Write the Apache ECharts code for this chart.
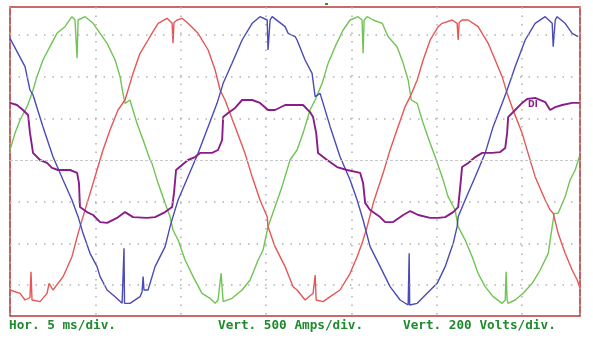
<!DOCTYPE html>
<html>
<head>
<meta charset="utf-8">
<script src="https://cdn.jsdelivr.net/npm/echarts@6/dist/echarts.min.js"></script>
<style>
  html, body { margin: 0; padding: 0; background: #fff; }
  #chart { width: 593px; height: 338px; }
</style>
</head>
<body>
<div id="chart"></div>
<script>
// time in ms, currents in A, voltage in V
var ampsBlue = [
  [0,1460],[0.88,1120],[1.17,840],[1.35,780],[1.93,400],[2.52,40],[3.11,-240],[3.63,-480],
  [3.99,-680],[4.28,-880],[4.69,-1120],[5.10,-1280],[5.28,-1400],[5.69,-1560],[6.16,-1640],
  [6.57,-1720],[6.65,-1720],[6.68,-1060],[6.71,-1720],[7.03,-1720],[7.62,-1640],[7.74,-1580],
  [7.80,-1400],[7.85,-1560],[8.09,-1560],[8.50,-1280],[9.09,-1040],[9.38,-800],[9.55,-680],
  [9.85,-480],[10.43,-200],[11.02,80],[11.61,400],[12.13,680],[12.49,920],[13.01,1160],
  [13.60,1440],[14.19,1640],[14.65,1720],[15.07,1680],[15.12,1320],[15.24,1680],[15.36,1720],
  [16.12,1600],[16.30,1520],[16.71,1480],[16.82,1440],[17.29,1200],[17.70,1040],[17.88,760],
  [18.17,800],[18.76,400],[19.34,40],[19.93,-240],[20.34,-480],[20.69,-720],[21.10,-1040],
  [21.69,-1280],[22.27,-1520],[22.86,-1680],[23.33,-1740],[23.39,-1120],[23.42,-1740],
  [23.86,-1720],[24.44,-1600],[25.03,-1480],[25.50,-1280],[25.97,-1000],[26.20,-800],
  [26.26,-680],[26.67,-480],[27.26,-200],[27.84,80],[28.31,400],[28.84,680],[29.13,840],
  [29.60,1120],[30.19,1440],[30.77,1640],[31.36,1720],[31.77,1640],[31.83,1360],[31.95,1680],
  [32.06,1720],[32.53,1640],[32.94,1520],[33.29,1480]
];

var ampsRed = [
  [0,-1560],[0.59,-1600],[0.88,-1680],[1.17,-1650],[1.23,-1340],[1.29,-1680],[1.35,-1680],
  [1.76,-1700],[2.17,-1600],[2.29,-1480],[2.52,-1560],[3.11,-1400],[3.63,-1160],[3.99,-880],
  [4.28,-680],[4.69,-400],[5.10,-120],[5.45,120],[5.86,360],[6.33,600],[6.74,720],[7.21,1040],
  [7.62,1280],[8.09,1440],[8.32,1520],[8.68,1640],[9.20,1700],[9.50,1640],[9.55,1400],
  [9.61,1650],[9.79,1680],[10.08,1700],[10.43,1640],[11.02,1520],[11.61,1320],[12.02,1080],
  [12.31,840],[12.60,720],[13.19,400],[13.77,80],[14.19,-200],[14.65,-480],[15.07,-680],
  [15.12,-800],[15.53,-1040],[16.12,-1280],[16.59,-1520],[16.82,-1560],[17.29,-1680],
  [17.76,-1600],[17.88,-1380],[17.94,-1680],[18.05,-1680],[18.35,-1700],[18.76,-1640],
  [19.34,-1560],[19.93,-1360],[20.34,-1160],[20.63,-1000],[20.93,-800],[21.28,-520],
  [21.86,-160],[22.27,120],[22.74,400],[23.15,640],[23.45,760],[23.86,960],[24.21,1200],
  [24.62,1440],[25.09,1600],[25.32,1640],[25.91,1680],[26.20,1640],[26.26,1440],[26.32,1650],
  [26.49,1680],[26.85,1680],[27.43,1600],[28.02,1400],[28.43,1200],[28.84,1000],[29.13,800],
  [29.48,600],[30.01,320],[30.36,80],[30.77,-200],[31.36,-480],[31.65,-600],[31.83,-640],
  [32.12,-880],[32.53,-1120],[32.94,-1320],[33.24,-1440],[33.36,-1520]
];

var ampsGreen = [
  [0,120],[0.29,320],[0.59,480],[1.00,640],[1.29,800],[1.58,1000],[1.93,1200],[2.34,1360],
  [2.75,1520],[3.22,1600],[3.63,1720],[3.81,1680],[3.93,1220],[3.99,1680],[4.10,1700],
  [4.40,1720],[4.87,1640],[5.28,1520],[5.69,1400],[6.16,1200],[6.45,1000],[6.62,800],
  [6.74,680],[7.03,720],[7.44,440],[7.80,240],[8.21,0],[8.32,-40],[8.68,-280],[9.09,-520],
  [9.38,-680],[9.55,-840],[9.85,-960],[10.26,-1200],[10.73,-1400],[11.25,-1600],[11.72,-1660],
  [12.02,-1720],[12.19,-1680],[12.37,-1360],[12.49,-1700],[13.01,-1660],[13.60,-1560],
  [14.07,-1440],[14.54,-1200],[14.83,-1080],[15.12,-800],[15.53,-560],[15.94,-320],[16.41,0],
  [16.82,120],[17.17,320],[17.58,600],[17.88,720],[18.29,920],[18.64,1160],[19.05,1360],
  [19.52,1560],[19.93,1680],[20.40,1720],[20.63,1680],[20.69,1280],[20.75,1680],[20.93,1720],
  [21.28,1680],[21.81,1640],[22.16,1480],[22.68,1360],[23.04,1160],[23.33,960],[23.51,720],
  [23.86,680],[24.21,440],[24.62,200],[24.91,40],[25.32,-200],[25.67,-440],[26.08,-600],
  [26.26,-800],[26.67,-960],[27.08,-1160],[27.43,-1360],[27.84,-1520],[28.31,-1640],
  [28.84,-1720],[29.02,-1680],[29.07,-1340],[29.13,-1680],[29.19,-1720],[29.60,-1680],
  [30.07,-1600],[30.60,-1480],[31.07,-1320],[31.54,-1120],[31.77,-800],[31.89,-640],
  [32.12,-640],[32.53,-440],[32.82,-240],[33.12,-120],[33.36,40]
];

var voltsPurple = [
  [0,274],[0.41,264],[0.76,240],[1.06,216],[1.17,130],[1.35,34],[1.76,0],[2.17,-14],
  [2.46,-38],[2.81,-48],[3.52,-48],[3.93,-62],[4.04,-110],[4.10,-226],[4.51,-250],[4.87,-264],
  [5.28,-298],[5.69,-302],[6.27,-278],[6.74,-250],[7.21,-274],[8.03,-278],[8.50,-274],
  [9.09,-250],[9.50,-226],[9.61,-158],[9.73,-48],[10.08,-24],[10.43,0],[10.84,14],[11.14,34],
  [11.84,34],[12.19,48],[12.43,96],[12.49,206],[12.78,226],[13.19,250],[13.60,288],[14.19,288],
  [14.65,274],[15.12,240],[15.53,240],[16.12,264],[16.59,264],[17.17,264],[17.58,230],
  [17.76,206],[17.94,130],[18.05,34],[18.58,0],[19.17,-34],[19.75,-48],[20.52,-62],
  [20.69,-110],[20.81,-206],[21.10,-240],[21.69,-274],[21.98,-298],[22.45,-298],[23.04,-264],
  [23.45,-245],[23.92,-264],[24.62,-278],[25.09,-278],[25.50,-274],[25.97,-250],[26.26,-226],
  [26.38,-130],[26.49,-34],[26.85,-14],[27.26,14],[27.67,34],[28.25,34],[28.72,38],[29.02,58],
  [29.13,130],[29.19,206],[29.60,240],[30.01,274],[30.30,293],[30.77,298],[31.36,278],
  [31.65,240],[31.95,254],[32.36,264],[32.94,274],[33.36,274]
];

// scope grid: 5 ms/div, 500 A/div, 200 V/div
var ampGridLines = [-1500, -1000, -500, 500, 1000, 1500];
var bottomTexts = ['Hor. 5 ms/div.', 'Vert. 500 Amps/div.', 'Vert. 200 Volts/div.'];

var chart = echarts.init(document.getElementById('chart'));

var dotted = { color: '#b0b0b0', width: 1.5, type: [1.5, 7] };
var labelFont = 'bold 12.7px "DejaVu Sans Mono", monospace';

function trace(name, data, color, width, axis) {
  return {
    name: name,
    type: 'line',
    data: data,
    yAxisIndex: axis || 0,
    showSymbol: false,
    silent: true,
    animation: false,
    lineStyle: { color: color, width: width }
  };
}

var gridMarks = ampGridLines.map(function (v) { return { yAxis: v }; });

var option = {
  backgroundColor: '#fff',
  animation: false,
  grid: {
    left: 10, right: 13, top: 7, bottom: 22,
    show: true,
    borderColor: '#b83a3a',
    borderWidth: 1.6,
    backgroundColor: 'transparent'
  },
  xAxis: {
    type: 'value',
    min: 0, max: 33.4, interval: 5,
    axisLine: { show: false },
    axisTick: { show: false },
    axisLabel: { show: false },
    splitLine: { show: true, lineStyle: dotted }
  },
  yAxis: [{
    type: 'value',
    min: -1872, max: 1836,
    axisLine: { show: false },
    axisTick: { show: false },
    axisLabel: { show: false },
    splitLine: { show: false }
  }, {
    type: 'value',
    min: -748.8, max: 734.4,
    axisLine: { show: false },
    axisTick: { show: false },
    axisLabel: { show: false },
    splitLine: { show: false }
  }],
  graphic: [
    { type: 'text', left: 9, top: 319, style: { text: bottomTexts[0], fill: '#1f8a2e', font: labelFont } },
    { type: 'text', left: 218, top: 319, style: { text: bottomTexts[1], fill: '#1f8a2e', font: labelFont } },
    { type: 'text', left: 403, top: 319, style: { text: bottomTexts[2], fill: '#1f8a2e', font: labelFont } },
    { type: 'text', left: 528, top: 101, style: { text: 'DI', fill: '#8a1a8a', font: 'bold 8px "DejaVu Sans", sans-serif' } },
    { type: 'rect', shape: { x: 325, y: 3, width: 3, height: 2 }, style: { fill: '#2a9a2a' } }
  ],
  series: [
    {
      type: 'line',
      data: [],
      silent: true,
      markLine: {
        silent: true,
        symbol: 'none',
        label: { show: false },
        lineStyle: dotted,
        data: gridMarks.concat([{ yAxis: 0, lineStyle: { color: '#c8c8c8', width: 1, type: [3, 2] } }])
      }
    },
    trace('Ic', ampsGreen, '#70c454', 1.4),
    trace('Ib', ampsRed, '#e65656', 1.4),
    trace('Ia', ampsBlue, '#4a4ab8', 1.4),
    trace('Vab', voltsPurple, '#8a1c8a', 1.9, 1)
  ]
};

chart.setOption(option);
</script>
</body>
</html>
